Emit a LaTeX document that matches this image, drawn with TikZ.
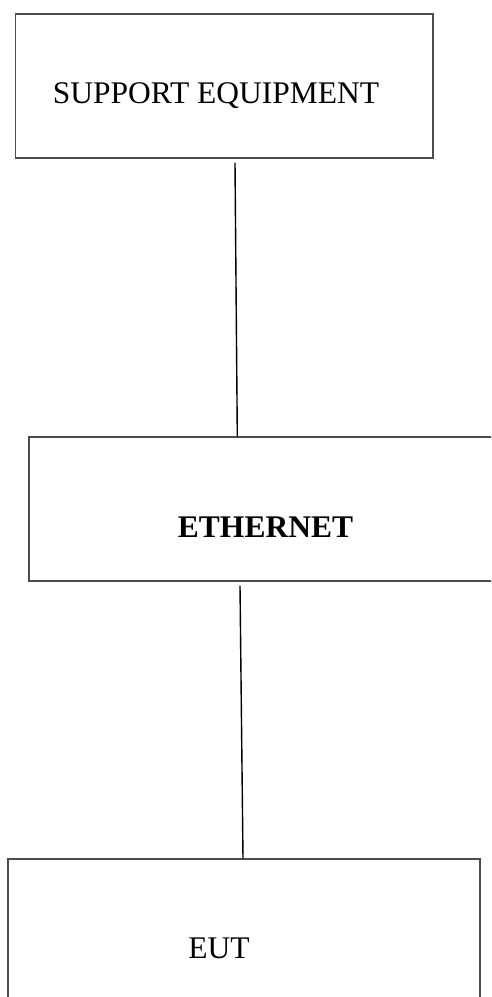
\documentclass[tikz,border=0pt]{standalone}
\usepackage{fontspec}
\setmainfont{Liberation Serif}
\usetikzlibrary{arrows.meta}

\begin{document}
\begin{tikzpicture}[x=1pt,y=-1pt,
	box/.style={draw=black!70, line width=1.4pt, inner sep=0pt},
	lbl/.style={anchor=base, inner sep=0pt, font=\fontsize{31.5}{36}\selectfont},
	wire/.style={draw=black, line width=1.4pt}]
	\useasboundingbox (0,0) rectangle (491,997);
	\clip (0,0) rectangle (491,997);

	\node[box, minimum width=417.5pt, minimum height=144pt] (sup) at (224.2,86) {};
	\node[box, minimum width=466pt, minimum height=144pt] (eth) at (262,509) {};
	\node[box, minimum width=472pt, minimum height=143pt] (eut) at (244,930.5) {};

	\node[lbl] (supT) at (216,103) {SUPPORT EQUIPMENT};
	\node[lbl, font=\fontsize{31.5}{36}\selectfont\bfseries] (ethT) at (265.5,537) {ETHERNET};
	\node[lbl] (eutT) at (219,958) {EUT};

	\coordinate[xshift=10.8pt, yshift=-4pt] (w1a) at (sup.south);
	\coordinate[xshift=209pt] (w1b) at (eth.north west);
	\coordinate[xshift=-22pt, yshift=-4pt] (w2a) at (eth.south);
	\coordinate[xshift=-1pt] (w2b) at (eut.north);

	\path[wire] (w1a) -- (w1b)
		  (w2a) -- (w2b);
\end{tikzpicture}
\end{document}
